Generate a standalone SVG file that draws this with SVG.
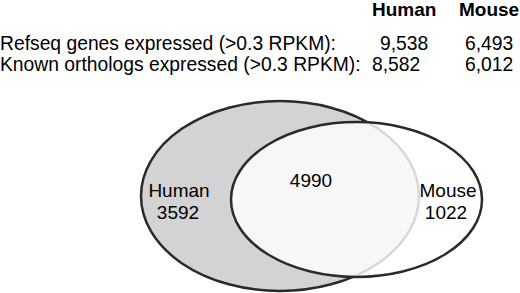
<svg xmlns="http://www.w3.org/2000/svg" width="520" height="293" viewBox="0 0 520 293">
<style>
text{font-family:"Liberation Sans",Arial,sans-serif;fill:#000}
.h{font-weight:bold;font-size:19px}
.t{font-size:19.3px}
.v{font-size:19px;text-anchor:middle}
</style>
<rect width="520" height="293" fill="#fff"/>
<g id="table">
<text class="h" x="372" y="15.5">Human</text>
<text class="h" x="459" y="15.5">Mouse</text>
<text class="t" x="0" y="50">Refseq genes expressed (&gt;0.3 RPKM):</text>
<text class="t" x="380" y="50">9,538</text>
<text class="t" x="465" y="50">6,493</text>
<text class="t" x="0" y="71">Known orthologs expressed (&gt;0.3 RPKM):</text>
<text class="t" x="372" y="71">8,582</text>
<text class="t" x="465" y="71">6,012</text>
</g>
<g id="human">
<ellipse cx="280" cy="196" rx="139" ry="95" fill="#d3d3d3" stroke="#2a2a2a" stroke-width="2.5"/>
</g>
<g id="mouse">
<ellipse cx="356.5" cy="199.5" rx="125.5" ry="77.5" fill="#fff" fill-opacity="0.82" stroke="#2a2a2a" stroke-width="2.5"/>
</g>
<g id="labels">
<text class="v" x="179" y="197">Human</text>
<text class="v" x="178" y="219">3592</text>
<text class="v" x="311" y="187">4990</text>
<text class="v" x="448" y="197">Mouse</text>
<text class="v" x="446" y="219">1022</text>
</g>
</svg>
